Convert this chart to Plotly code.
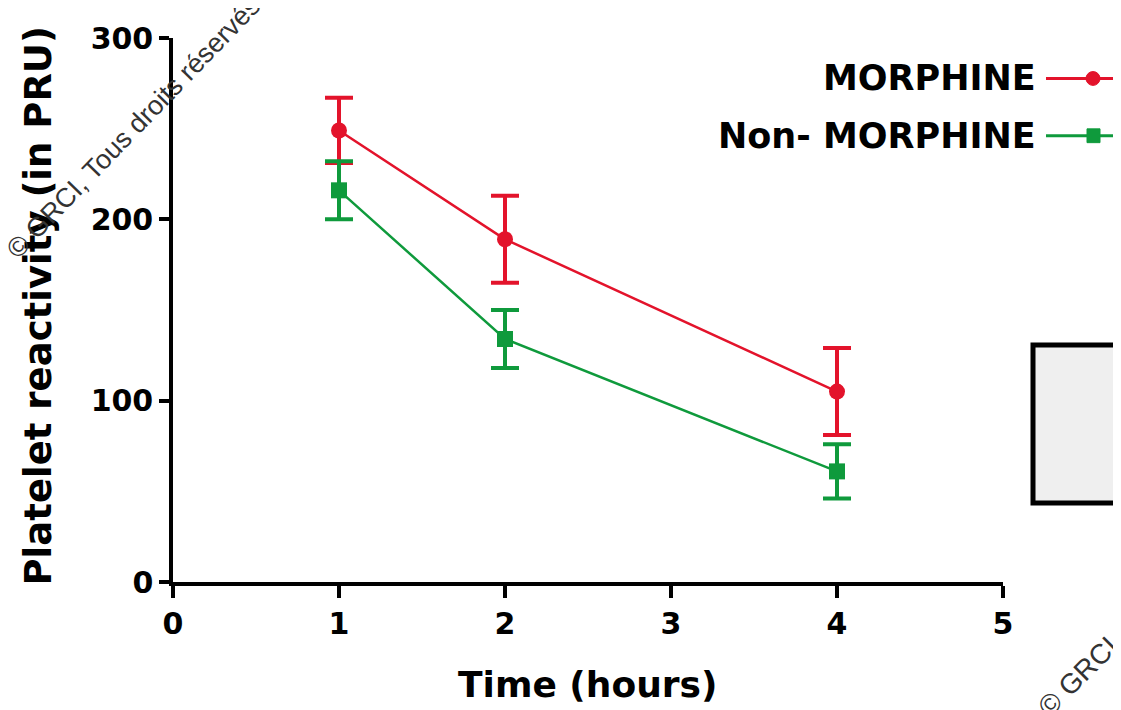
import plotly.graph_objects as go

time_h = [1, 2, 4]
morphine = [249, 189, 105]
morphine_err = [18, 24, 24]
non_morphine = [216, 134, 61]
non_morphine_err = [16, 16, 15]

x_ticks = [0, 1, 2, 3, 4, 5]
y_ticks = [0, 100, 200, 300]

RED = "#E3132B"
GREEN = "#0F9A3C"
FONT = "DejaVu Sans"
WFONT = "Liberation Sans"

fig = go.Figure()
fig.add_trace(go.Scatter(
    x=time_h, y=morphine, mode="lines+markers", name="MORPHINE",
    line=dict(color=RED, width=2.5),
    marker=dict(symbol="circle", size=16, color=RED),
    error_y=dict(type="data", array=morphine_err, color=RED, thickness=4, width=14),
    showlegend=False,
))
fig.add_trace(go.Scatter(
    x=time_h, y=non_morphine, mode="lines+markers", name="Non- MORPHINE",
    line=dict(color=GREEN, width=2.5),
    marker=dict(symbol="square", size=16, color=GREEN),
    error_y=dict(type="data", array=non_morphine_err, color=GREEN, thickness=4, width=14),
    showlegend=False,
))

OFF = 8  # page body margin
W, H = 1113, 702
L, R, T, B = 165, 118, 23, 128
pw, ph = W - L - R, H - T - B

def px(x):
    return (x - OFF - L) / pw

def py(y):
    return (OFF + H - B - y) / ph

fig.update_layout(
    width=W, height=H,
    margin=dict(l=L, r=R, t=T, b=B),
    paper_bgcolor="white", plot_bgcolor="white",
    font=dict(family=FONT, color="black"),
    xaxis=dict(
        range=[0, 5], tickvals=x_ticks, showgrid=False, zeroline=False,
        showline=True, linecolor="black", linewidth=3.5,
        ticks="outside", ticklen=12, tickwidth=3.5, tickcolor="black",
        tickfont=dict(family=FONT, size=30, color="black", weight="bold"),
    ),
    yaxis=dict(
        range=[0, 300], tickvals=y_ticks, showgrid=False, zeroline=False,
        showline=True, linecolor="black", linewidth=3.5,
        ticks="outside", ticklen=10, tickwidth=3.5, tickcolor="black",
        tickfont=dict(family=FONT, size=30, color="black", weight="bold"),
    ),
)

ann = [
    dict(text="<b>Time (hours)</b>", x=px(587), y=py(686), xref="paper", yref="paper",
         showarrow=False, xanchor="center", yanchor="middle",
         font=dict(family=FONT, size=36, color="black")),
    dict(text="<b>Platelet reactivity (in PRU)</b>", x=px(39), y=py(303), xref="paper", yref="paper",
         showarrow=False, xanchor="center", yanchor="middle", textangle=-90,
         font=dict(family=FONT, size=37, color="black")),
    dict(text="<b>MORPHINE</b>", x=px(1038), y=py(72), xref="paper", yref="paper",
         showarrow=False, xanchor="right", yanchor="middle",
         font=dict(family=FONT, size=35, color="black")),
    dict(text="<b>Non- MORPHINE</b>", x=px(1038), y=py(130), xref="paper", yref="paper",
         showarrow=False, xanchor="right", yanchor="middle",
         font=dict(family=FONT, size=35, color="black")),
    dict(text="© GRCI, Tous droits réservés", x=px(133), y=py(122), xref="paper", yref="paper",
         showarrow=False, xanchor="center", yanchor="middle", textangle=-46,
         font=dict(family=WFONT, size=27, color="#333333")),
    dict(text="© GRCI", x=px(1078), y=py(678), xref="paper", yref="paper",
         showarrow=False, xanchor="center", yanchor="middle", textangle=-45,
         font=dict(family=WFONT, size=28, color="#333333")),
]
fig.update_layout(annotations=ann)

shapes = [
    # legend symbols
    dict(type="line", xref="paper", yref="paper", x0=px(1046), x1=px(1140), y0=py(72), y1=py(72),
         line=dict(color=RED, width=3)),
    dict(type="circle", xref="paper", yref="paper", x0=px(1086), x1=px(1100), y0=py(79), y1=py(65),
         line=dict(color=RED, width=1), fillcolor=RED),
    dict(type="line", xref="paper", yref="paper", x0=px(1046), x1=px(1140), y0=py(130), y1=py(130),
         line=dict(color=GREEN, width=3)),
    dict(type="rect", xref="paper", yref="paper", x0=px(1087), x1=px(1100), y0=py(137), y1=py(123),
         line=dict(color=GREEN, width=1), fillcolor=GREEN),
    # adjacent panel box
    dict(type="rect", xref="paper", yref="paper", x0=px(1033), x1=px(1140), y0=py(502), y1=py(342),
         line=dict(color="black", width=5), fillcolor="#efefef"),
]
fig.update_layout(shapes=shapes)

fig.write_html("out.html")
